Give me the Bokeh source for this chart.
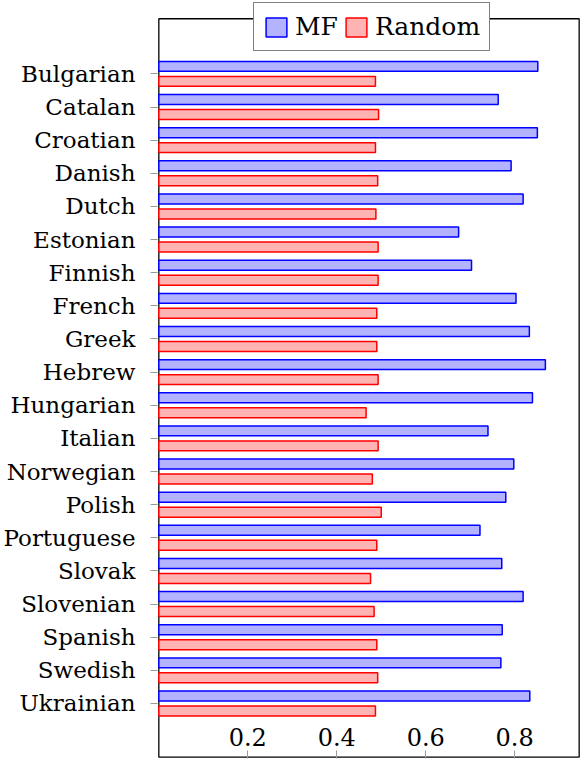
from bokeh.plotting import figure
from bokeh.models import (Range1d, FixedTicker, ColumnDataSource, Legend,
                          LegendItem, BoxAnnotation)
from bokeh.transform import dodge
from bokeh.embed import file_html
from bokeh.resources import INLINE

languages = ["Bulgarian", "Catalan", "Croatian", "Danish", "Dutch", "Estonian",
             "Finnish", "French", "Greek", "Hebrew", "Hungarian", "Italian",
             "Norwegian", "Polish", "Portuguese", "Slovak", "Slovenian",
             "Spanish", "Swedish", "Ukrainian"]
mf = [0.852, 0.763, 0.851, 0.792, 0.819, 0.674, 0.703, 0.803, 0.833, 0.869,
      0.840, 0.740, 0.798, 0.780, 0.722, 0.771, 0.819, 0.772, 0.769, 0.834]
rnd = [0.487, 0.494, 0.487, 0.492, 0.488, 0.493, 0.493, 0.490, 0.490, 0.493,
       0.466, 0.493, 0.480, 0.500, 0.490, 0.476, 0.484, 0.490, 0.492, 0.487]
series_names = ["MF", "Random"]
x_ticks = [0.2, 0.4, 0.6, 0.8]
x_tick_labels = ["0.2", "0.4", "0.6", "0.8"]

# axis limits (value space)
x_min, x_max = 0.0, 0.945
y_top, y_bottom = -1.663, len(languages) - 1 + 1.62

FONT = "DejaVu Serif"
pos = list(range(len(languages)))
src = ColumnDataSource(dict(pos=pos, mf=mf, rnd=rnd))

p = figure(frame_width=423, frame_height=756,
           x_range=Range1d(x_min - 0.003, x_max + 0.003),
           y_range=Range1d(y_bottom + 0.04, y_top - 0.491),
           output_backend="svg", toolbar_location=None,
           min_border_left=156, min_border_right=2,
           min_border_top=2, min_border_bottom=1)

r1 = p.hbar(y=dodge("pos", -0.226, range=p.y_range), right="mf", left=0,
            height=0.30, source=src, fill_color="#b3b3ff", line_color="#0000ff",
            line_width=1.5)
r2 = p.hbar(y=dodge("pos", 0.226, range=p.y_range), right="rnd", left=0,
            height=0.30, source=src, fill_color="#ffb3b3", line_color="#ff0000",
            line_width=1.5)

# visible axis box (the legend sits across its top edge)
p.add_layout(BoxAnnotation(left=x_min, right=x_max, top=y_top, bottom=y_bottom,
                           fill_alpha=0, line_color="black", line_alpha=1.0,
                           line_width=1.3, level="underlay"))

p.grid.grid_line_color = None
p.outline_line_color = None
p.background_fill_color = "white"
p.border_fill_color = "white"

p.xaxis.ticker = FixedTicker(ticks=x_ticks)
p.xaxis.major_label_overrides = dict(zip(x_ticks, x_tick_labels))
p.xaxis.major_tick_in = 8
p.xaxis.major_tick_out = 0
p.xaxis.minor_tick_line_color = None
p.xaxis.major_tick_line_color = "#9a9a9a"
p.xaxis.major_label_standoff = -31
p.xaxis.major_label_text_font = FONT
p.xaxis.major_label_text_font_size = "24px"
p.xaxis.major_label_text_color = "black"
p.xaxis.axis_line_color = None

p.yaxis.ticker = FixedTicker(ticks=pos)
p.yaxis.major_label_overrides = {i: name for i, name in zip(pos, languages)}
p.yaxis.major_tick_in = 0
p.yaxis.major_tick_out = 7
p.yaxis.minor_tick_line_color = None
p.yaxis.major_tick_line_color = "#9a9a9a"
p.yaxis.major_label_standoff = 15
p.yaxis.major_label_text_font = FONT
p.yaxis.major_label_text_font_size = "23px"
p.yaxis.major_label_text_color = "black"
p.yaxis.axis_line_color = None

legend = Legend(items=[LegendItem(label=series_names[0], renderers=[r1]),
                       LegendItem(label=series_names[1], renderers=[r2])],
                location=(96, 707), orientation="horizontal",
                label_text_font=FONT, label_text_font_size="25px",
                label_text_color="black",
                glyph_width=26, glyph_height=24, label_standoff=6, spacing=5,
                padding=9, margin=0, border_line_color="black",
                border_line_width=1.5, background_fill_alpha=1.0)
p.add_layout(legend)

open("out.html", "w").write(file_html(p, INLINE))
